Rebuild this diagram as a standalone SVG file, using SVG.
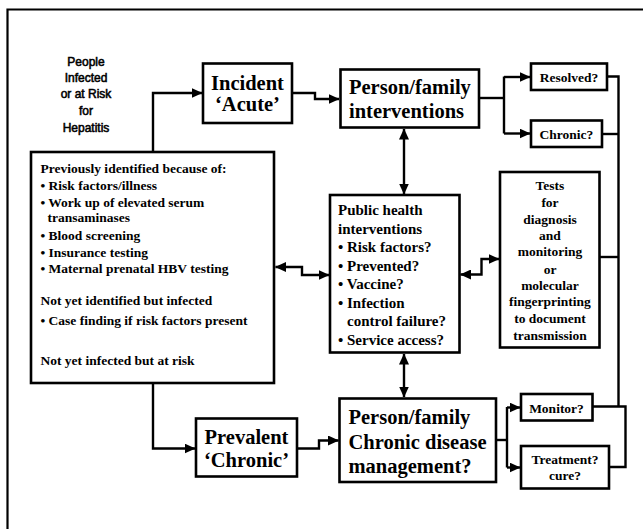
<svg xmlns="http://www.w3.org/2000/svg" width="643" height="529" viewBox="0 0 643 529">
<style>
.box{fill:#fff;stroke:#000;stroke-width:2.6}
.ln{fill:none;stroke:#000;stroke-width:2.4}
.sf{font-family:"Liberation Serif","Times New Roman",serif;font-weight:bold;fill:#000}
.big{font-size:20.5px}
.mid{font-size:15px}
.sm{font-size:13.5px}
.c{text-anchor:middle}
.sans{font-family:"Liberation Sans",Arial,sans-serif;font-size:12px;fill:#000;stroke:#000;stroke-width:0.55;text-anchor:middle}
</style>
<defs>
<marker id="ah" markerUnits="userSpaceOnUse" markerWidth="11" markerHeight="10" refX="10.5" refY="5" orient="auto-start-reverse" viewBox="0 0 11 10">
<path d="M0,0 L11,5 L0,10 z" fill="#000"/>
</marker>
</defs>
<rect width="643" height="529" fill="#fff"/>
<path d="M7.5,529 V9.5 H643" fill="none" stroke="#000" stroke-width="2.2"/>

<g id="label-people">
<text class="sans" x="86" y="65.5">People</text>
<text class="sans" x="86" y="82">Infected</text>
<text class="sans" x="86" y="98">or at Risk</text>
<text class="sans" x="86" y="114.5">for</text>
<text class="sans" x="86" y="131.5">Hepatitis</text>
</g>

<g id="connectors">
<path class="ln" d="M153,152 V93 H202" marker-end="url(#ah)"/>
<path class="ln" d="M292,93 H315 V99 H339" marker-end="url(#ah)"/>
<path class="ln" d="M479,98 H504"/>
<path class="ln" d="M504,76.5 V133.5"/>
<path class="ln" d="M504,77 H530" marker-end="url(#ah)"/>
<path class="ln" d="M504,133.5 H530" marker-end="url(#ah)"/>
<path class="ln" d="M607,76.5 H618.5 V406.5"/>
<path class="ln" d="M602,134 H618.5"/>
<path class="ln" d="M599.5,257 H618.5"/>
<path class="ln" d="M592.5,406.5 H625.5 V467 H609"/>
<path class="ln" d="M404,129 V194" marker-start="url(#ah)" marker-end="url(#ah)"/>
<path class="ln" d="M404,354 V397" marker-start="url(#ah)" marker-end="url(#ah)"/>
<path class="ln" d="M275.5,267 H302 V275 H329" marker-start="url(#ah)" marker-end="url(#ah)"/>
<path class="ln" d="M460.5,274.5 H481.5 V259 H499" marker-start="url(#ah)" marker-end="url(#ah)"/>
<path class="ln" d="M153,383 V448.5 H195" marker-end="url(#ah)"/>
<path class="ln" d="M297,448.5 H319 V440.5 H338.5" marker-end="url(#ah)"/>
<path class="ln" d="M496,440 H507"/>
<path class="ln" d="M507,407 V467.5"/>
<path class="ln" d="M507,407.5 H520" marker-end="url(#ah)"/>
<path class="ln" d="M507,467.5 H520" marker-end="url(#ah)"/>
</g>

<g id="incident">
<rect class="box" x="203" y="63.5" width="89" height="59.5"/>
<text class="sf big c" x="247.5" y="90">Incident</text>
<text class="sf big c" x="247.5" y="111">‘Acute’</text>
</g>

<g id="person-interventions">
<rect class="box" x="340.5" y="69.5" width="138.5" height="58"/>
<text class="sf big" x="349" y="93.5">Person/family</text>
<text class="sf big" x="349" y="117.5">interventions</text>
</g>

<g id="resolved">
<rect class="box" x="531" y="63.5" width="76" height="26.5"/>
<text class="sf sm c" x="569" y="82">Resolved?</text>
</g>

<g id="chronic-q">
<rect class="box" x="531" y="120.5" width="71" height="26.5"/>
<text class="sf sm c" x="566.5" y="138.5">Chronic?</text>
</g>

<g id="people-box">
<rect class="box" x="31" y="152" width="243" height="231"/>
<text class="sf sm" x="40.5" y="172.5">Previously identified because of:</text>
<text class="sf sm" x="40.5" y="189.5">• Risk factors/illness</text>
<text class="sf sm" x="40.5" y="206.5">• Work up of elevated serum</text>
<text class="sf sm" x="47.5" y="221.5">transaminases</text>
<text class="sf sm" x="40.5" y="239.5">• Blood screening</text>
<text class="sf sm" x="40.5" y="256.5">• Insurance testing</text>
<text class="sf sm" x="40.5" y="272.5">• Maternal prenatal HBV testing</text>
<text class="sf sm" x="40.5" y="304.5">Not yet identified but infected</text>
<text class="sf sm" x="40.5" y="324.5">• Case finding if risk factors present</text>
<text class="sf sm" x="40.5" y="365">Not yet infected but at risk</text>
</g>

<g id="public-health">
<rect class="box" x="330" y="195" width="129.5" height="157.5"/>
<text class="sf mid" x="338" y="215">Public health</text>
<text class="sf mid" x="338" y="233.5">interventions</text>
<text class="sf mid" x="338" y="252">• Risk factors?</text>
<text class="sf mid" x="338" y="270.5">• Prevented?</text>
<text class="sf mid" x="338" y="289">• Vaccine?</text>
<text class="sf mid" x="338" y="307.5">• Infection</text>
<text class="sf mid" x="347" y="326">control failure?</text>
<text class="sf mid" x="338" y="344.5">• Service access?</text>
</g>

<g id="tests">
<rect class="box" x="500" y="172" width="99.5" height="175.5"/>
<text class="sf sm c" x="550" y="189.5">Tests</text>
<text class="sf sm c" x="550" y="207">for</text>
<text class="sf sm c" x="550" y="223.5">diagnosis</text>
<text class="sf sm c" x="550" y="240">and</text>
<text class="sf sm c" x="550" y="256">monitoring</text>
<text class="sf sm c" x="550" y="273.5">or</text>
<text class="sf sm c" x="550" y="289.5">molecular</text>
<text class="sf sm c" x="550" y="306">fingerprinting</text>
<text class="sf sm c" x="550" y="323">to document</text>
<text class="sf sm c" x="550" y="339.5">transmission</text>
</g>

<g id="prevalent">
<rect class="box" x="196" y="418.5" width="101" height="58"/>
<text class="sf big c" x="246.5" y="444">Prevalent</text>
<text class="sf big c" x="246.5" y="467">‘Chronic’</text>
</g>

<g id="chronic-management">
<rect class="box" x="339.5" y="398.5" width="156.5" height="83.5"/>
<text class="sf big" x="348.5" y="424">Person/family</text>
<text class="sf big" x="348.5" y="449">Chronic disease</text>
<text class="sf big" x="348.5" y="472.5">management?</text>
</g>

<g id="monitor">
<rect class="box" x="521" y="394" width="71.5" height="26.5"/>
<text class="sf sm c" x="556.5" y="412.5">Monitor?</text>
</g>

<g id="treatment">
<rect class="box" x="521" y="446" width="88" height="42.5"/>
<text class="sf sm c" x="565" y="463.5">Treatment?</text>
<text class="sf sm c" x="565" y="480">cure?</text>
</g>
</svg>
